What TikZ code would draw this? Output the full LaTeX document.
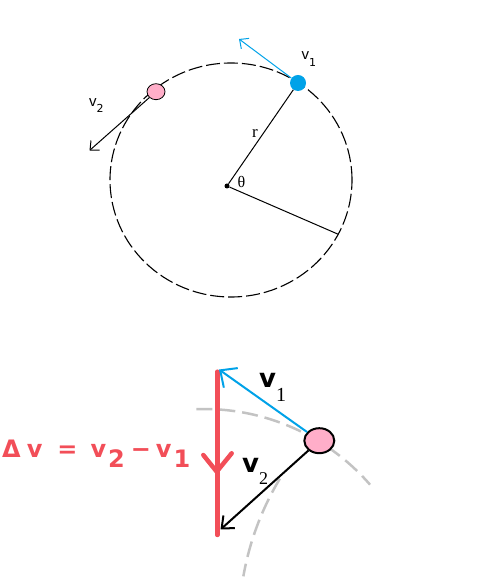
\documentclass[tikz,border=0pt]{standalone}
\usepackage{fontspec}
\setmainfont{Liberation Serif}
\newfontfamily\sansv{Liberation Sans}
\newfontfamily\dejav{DejaVu Sans}
\usetikzlibrary{arrows.meta,shapes.geometric}
\definecolor{cblue}{HTML}{00A2E8}
\definecolor{cpink}{HTML}{FFAEC9}
\definecolor{cred}{HTML}{F24E58}
\definecolor{cgray}{HTML}{C3C3C3}
\begin{document}
\begin{tikzpicture}[x=1pt,y=1pt,
  lbl/.style={inner sep=0pt, anchor=base west},
  toparrow/.style={line width=1pt, -{Straight Barb[length=7pt,width=13pt]}},
  dot/.style={ellipse, inner sep=0pt},
  grayarc/.style={cgray, line width=2.5pt, dash pattern=on 16pt off 7pt}]
\useasboundingbox (0,0) rectangle (487,586);
% ---------- top figure ----------
\draw[line width=1.1pt, dash pattern=on 14pt off 4pt] (231,406) ellipse [x radius=121, y radius=117];
\node[circle, fill, minimum size=5pt, inner sep=0pt] (O) at (227,400) {};
\coordinate (A1) at (239,547);
\coordinate (A2) at (89.5,435.5);
\coordinate (R2) at (338.3,351.7);
\node[dot, fill=cblue, minimum width=16pt, minimum height=16pt] (B1) at (298,503) {};
\node[dot, draw, fill=cpink, line width=0.8pt, minimum width=18pt, minimum height=16pt] (P2) at (156,494.3) {};
\draw[line width=1pt] (O) -- (B1);
\draw[line width=1pt] (O) -- (R2);
\draw[toparrow, cblue] (B1) -- (A1);
\draw[toparrow] (P2) -- (A2);
\node[lbl] (v1t) at (301.5,526) {\fontsize{15}{15}\sansv v\raisebox{-6.5pt}{\fontsize{11}{11}\dejav 1}};
\node[lbl] (v2t) at (89,479) {\fontsize{15}{15}\sansv v\raisebox{-6pt}{\fontsize{11}{11}\dejav 2}};
\node[lbl] (r) at (252,448) {\fontsize{17}{17}\selectfont r};
\node[lbl] (th) at (237.5,398) {\fontsize{16}{16}\selectfont θ};
% ---------- bottom figure ----------
\draw[grayarc] (204,-43) ++(92:220) arc[start angle=92, end angle=41, radius=220];
\draw[grayarc] (525,-40) ++(149:286) arc[start angle=149, end angle=170, radius=286];
\coordinate (RT) at (217.3,214.3);
\coordinate (RB) at (217.3,51);
\coordinate (RM) at (216.7,114.3);
\coordinate (BT) at (219,216.5);
\coordinate (KT) at (220.5,56.5);
\draw[cred, line width=4.5pt, line cap=round] (RT) -- (RB);
\draw[cred, line width=4.5pt, line cap=round, line join=round] (RM) ++(-13.4,16.7) -- (RM) -- ++(15,18.4);
\node[dot, draw, fill=cpink, line width=2pt, minimum width=30pt, minimum height=25pt] (P) at (319.3,145.3) {};
\draw[cblue, line width=2pt, -{Straight Barb[length=13pt,width=24pt]}] (P) -- (BT);
\draw[line width=2pt, -{Straight Barb[length=10pt,width=17pt]}] (P) -- (KT);
\node[lbl] (v1b) at (259,198) {{\dejav\bfseries\fontsize{26}{26}\selectfont v}\raisebox{-14pt}{\fontsize{20}{20}\selectfont 1}};
\node[lbl] (v2b) at (242,113) {{\dejav\bfseries\fontsize{26}{26}\selectfont v}\raisebox{-12pt}{\fontsize{18}{18}\selectfont 2}};
\node[lbl, text=cred] (dv) at (2,128) {\dejav\bfseries\fontsize{24}{24}\selectfont Δ\hspace{6pt}v\hspace{15pt}=\hspace{13pt}v\hspace{2pt}\raisebox{-10pt}{2}\hspace{6pt}−\hspace{5pt}v\hspace{2pt}\raisebox{-10pt}{1}};
\end{tikzpicture}
\end{document}
